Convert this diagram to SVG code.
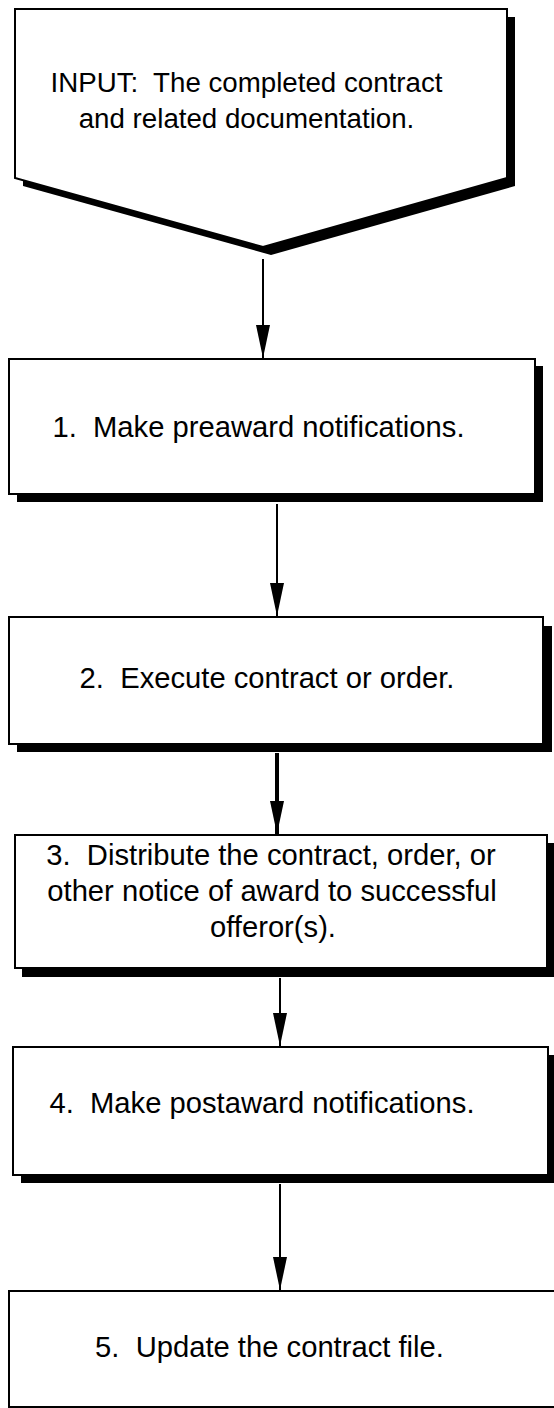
<svg xmlns="http://www.w3.org/2000/svg" width="554" height="1408" viewBox="0 0 554 1408">
<style>
.box{fill:#fff;stroke:#000;stroke-width:2}
.shadow{fill:#000}
.t{font-family:"Liberation Sans",Arial,sans-serif;font-size:29.2px;fill:#000;text-anchor:middle;white-space:pre}
.ti{font-size:27.7px}
.c{stroke:#000;stroke-width:2;fill:none}
.thick{stroke-width:4}
</style>
<defs>
<marker id="ah" markerUnits="userSpaceOnUse" markerWidth="34" markerHeight="16" viewBox="0 0 34 16" refX="33" refY="8" orient="auto">
<path d="M0,1 L0,15 L33,8 Z" fill="#000"/>
</marker>
</defs>
<rect width="554" height="1408" fill="#fff"/>
<g id="connectors">
<line class="c" x1="263" y1="259" x2="263" y2="358" marker-end="url(#ah)"/>
<line class="c" x1="277" y1="504" x2="277" y2="616" marker-end="url(#ah)"/>
<line class="c thick" x1="277" y1="753" x2="277" y2="834" marker-end="url(#ah)"/>
<line class="c" x1="280" y1="978" x2="280" y2="1046" marker-end="url(#ah)"/>
<line class="c" x1="280" y1="1184" x2="280" y2="1290" marker-end="url(#ah)"/>
</g>
<g id="input">
<polygon class="shadow" points="23,17 515,17 515,186 271,255 23,186"/>
<polygon class="box" points="15,9 507,9 507,178 263,247 15,178"/>
<text class="t ti" x="246.5" y="92" xml:space="preserve">INPUT:  The completed contract</text>
<text class="t ti" x="246.5" y="128">and related documentation.</text>
</g>
<g id="step1">
<rect class="shadow" x="17" y="366" width="526" height="136"/>
<rect class="box" x="9" y="359" width="526" height="135"/>
<text class="t" x="258.5" y="437" xml:space="preserve">1.  Make preaward notifications.</text>
</g>
<g id="step2">
<rect class="shadow" x="17" y="626" width="535" height="126"/>
<rect class="box" x="9" y="617" width="534" height="127"/>
<text class="t" x="267" y="688" xml:space="preserve">2.  Execute contract or order.</text>
</g>
<g id="step3">
<rect class="shadow" x="22" y="843" width="534" height="134"/>
<rect class="box" x="15" y="835" width="532" height="133"/>
<text class="t" x="271" y="865" xml:space="preserve">3.  Distribute the contract, order, or</text>
<text class="t" x="272" y="901">other notice of award to successful</text>
<text class="t" x="273" y="937">offeror(s).</text>
</g>
<g id="step4">
<rect class="shadow" x="21" y="1055" width="535" height="128"/>
<rect class="box" x="13" y="1047" width="535" height="128"/>
<text class="t" x="262" y="1113" xml:space="preserve">4.  Make postaward notifications.</text>
</g>
<g id="step5">
<rect class="box" x="9" y="1291" width="560" height="116"/>
<text class="t" x="269.5" y="1357" xml:space="preserve">5.  Update the contract file.</text>
</g>
</svg>
